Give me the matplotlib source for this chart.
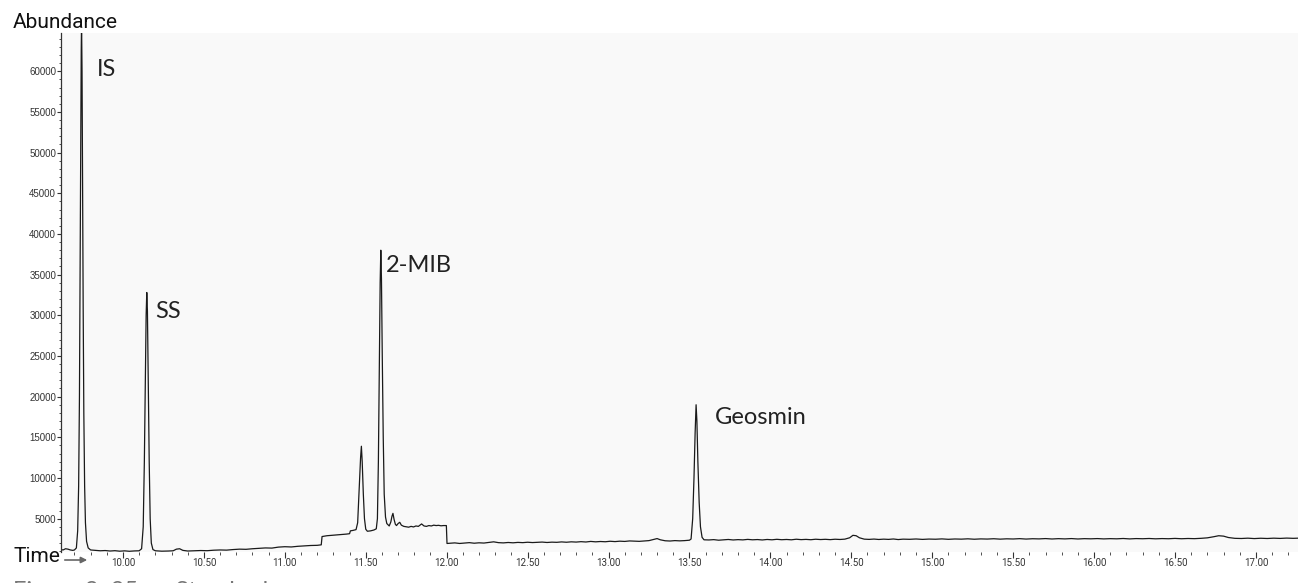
import matplotlib.pyplot as plt
from matplotlib.ticker import MultipleLocator, FormatStrFormatter

# chromatogram trace (time in min, abundance)
pre_is_t = [9.617, 9.63, 9.645, 9.66, 9.675, 9.69, 9.70]
pre_is_a = [1200, 1150, 1300, 1250, 1150, 1100, 1150]

is_t = [9.712, 9.720, 9.726, 9.731, 9.735, 9.739, 9.742, 9.744, 9.747, 9.750,
        9.754, 9.758, 9.763, 9.768, 9.775, 9.785]
is_a = [1400, 3500, 9000, 20000, 35000, 52000, 62500, 66000, 60000, 47000,
        31000, 18000, 9000, 4500, 2200, 1400]

base1_t = [9.80, 9.83, 9.86, 9.89, 9.92, 9.95, 9.98, 10.01, 10.04, 10.07, 10.10]
base1_a = [1150, 1100, 1050, 1080, 1020, 1060, 1000, 1040, 990, 1030, 1050]

ss_t = [10.115, 10.125, 10.132, 10.138, 10.143, 10.147, 10.151, 10.156, 10.162,
        10.168, 10.175, 10.185]
ss_a = [1300, 4000, 12000, 22000, 30000, 32800, 30500, 22000, 12000, 5000, 2000, 1200]

base2_t = [10.20, 10.24, 10.28, 10.31, 10.33, 10.35, 10.37, 10.40, 10.44, 10.48,
           10.52, 10.56, 10.60, 10.64, 10.68, 10.72, 10.76, 10.80, 10.84, 10.88,
           10.92, 10.96, 11.00, 11.04, 11.08, 11.12, 11.16, 11.20, 11.225]
base2_a = [1050, 1000, 1020, 1050, 1250, 1300, 1100, 1020, 1050, 1080,
           1060, 1120, 1150, 1130, 1200, 1250, 1230, 1300, 1350, 1400,
           1380, 1500, 1550, 1520, 1600, 1650, 1700, 1720, 1780]

mib_t = [11.23, 11.26, 11.29, 11.32, 11.35, 11.38, 11.40, 11.405, 11.42, 11.44,
         11.450, 11.460, 11.468, 11.473, 11.478, 11.485, 11.492, 11.50, 11.51,
         11.53, 11.55, 11.565,
         11.572, 11.578, 11.584, 11.589, 11.593, 11.597, 11.602, 11.608, 11.614,
         11.622, 11.63, 11.645, 11.655, 11.662, 11.668, 11.675, 11.683, 11.69,
         11.70, 11.71, 11.72, 11.735, 11.75, 11.765, 11.78, 11.795, 11.81, 11.825,
         11.845, 11.86, 11.875, 11.89, 11.905, 11.92, 11.935, 11.95, 11.965,
         11.98, 11.998]
mib_a = [2800, 2900, 2950, 3000, 3050, 3100, 3150, 3500, 3550, 3650,
         4500, 9000, 12500, 13900, 12000, 8000, 5000, 3700, 3450,
         3500, 3600, 3750,
         5000, 12000, 24000, 34000, 38000, 34500, 25000, 15000, 8000,
         5200, 4400, 4100, 4600, 5300, 5650, 4900, 4300, 4150,
         4400, 4550, 4200, 4050, 4000, 3950, 4050, 3980, 4100, 4050,
         4350, 4100, 4050, 4150, 4100, 4200, 4150, 4180, 4120,
         4150, 4150]

base3_t = [12.002, 12.02, 12.05, 12.08, 12.11, 12.14, 12.17, 12.20, 12.23, 12.26,
           12.29, 12.32, 12.35, 12.38, 12.41, 12.44, 12.47, 12.50, 12.53, 12.56,
           12.59, 12.62, 12.65, 12.68, 12.71, 12.74, 12.77, 12.80, 12.83, 12.86,
           12.89, 12.92, 12.95, 12.98, 13.01, 13.04, 13.07, 13.10, 13.13, 13.16,
           13.19, 13.22, 13.25, 13.28, 13.30, 13.32, 13.35, 13.38, 13.41, 13.44,
           13.47, 13.50]
base3_a = [1950, 1980, 2020, 1950, 2000, 2050, 1980, 2030, 2000, 2080,
           2150, 2050, 2020, 2070, 2030, 2080, 2050, 2100, 2060, 2090,
           2120, 2070, 2110, 2090, 2140, 2100, 2150, 2120, 2170, 2130,
           2200, 2150, 2190, 2160, 2220, 2180, 2230, 2200, 2260, 2240,
           2210, 2260, 2300, 2450, 2550, 2400, 2280, 2250, 2300, 2270,
           2300, 2350]

geo_t = [13.51, 13.52, 13.528, 13.535, 13.541, 13.546, 13.552, 13.56, 13.568,
         13.578, 13.59]
geo_a = [2500, 5000, 10000, 15500, 19000, 17000, 12000, 7000, 4000, 2700, 2400]

base4_t = [13.62, 13.65, 13.68, 13.71, 13.74, 13.77, 13.80, 13.83, 13.86, 13.89,
           13.92, 13.95, 13.98, 14.01, 14.04, 14.07, 14.10, 14.13, 14.16, 14.19,
           14.22, 14.25, 14.28, 14.31, 14.34, 14.37, 14.40, 14.43, 14.46, 14.49,
           14.51, 14.53, 14.55, 14.58, 14.61, 14.64, 14.67, 14.70, 14.73, 14.76,
           14.79, 14.82, 14.86, 14.90, 14.94, 14.98, 15.02, 15.06, 15.10, 15.14,
           15.18, 15.22, 15.26, 15.30, 15.34, 15.38, 15.42, 15.46, 15.50, 15.54,
           15.58, 15.62, 15.66, 15.70, 15.74, 15.78, 15.82, 15.86, 15.90, 15.94,
           15.98, 16.02, 16.06, 16.10, 16.14, 16.18, 16.22, 16.26, 16.30, 16.34,
           16.38, 16.42, 16.46, 16.50, 16.54, 16.58, 16.62, 16.66, 16.70, 16.74,
           16.77, 16.80, 16.83, 16.87, 16.91, 16.95, 16.99, 17.03, 17.07, 17.11,
           17.15, 17.19, 17.23, 17.26]
base4_a = [2380, 2420, 2350, 2400, 2440, 2380, 2420, 2390, 2450, 2400,
           2430, 2380, 2440, 2400, 2460, 2410, 2440, 2400, 2470, 2420,
           2450, 2410, 2470, 2430, 2460, 2420, 2470, 2440, 2480, 2650,
           2950, 2900, 2650, 2480, 2450, 2490, 2440, 2480, 2450, 2500,
           2430, 2480, 2460, 2500, 2450, 2490, 2470, 2510, 2460, 2500,
           2480, 2520, 2470, 2510, 2490, 2530, 2480, 2520, 2500, 2540,
           2490, 2530, 2510, 2550, 2500, 2540, 2510, 2550, 2500, 2540,
           2520, 2550, 2510, 2540, 2520, 2560, 2510, 2550, 2530, 2560,
           2520, 2550, 2530, 2570, 2530, 2560, 2540, 2580, 2640, 2780,
           2900, 2850, 2680, 2580, 2560, 2600, 2550, 2590, 2560, 2600,
           2570, 2610, 2580, 2600]

peak_names = ["IS", "SS", "2-MIB", "Geosmin"]
label_x = [9.839, 10.197, 11.623, 13.654]
label_y = [59400, 29650, 35300, 16630]

times = pre_is_t + is_t + base1_t + ss_t + base2_t + mib_t + base3_t + geo_t + base4_t
abund = pre_is_a + is_a + base1_a + ss_a + base2_a + mib_a + base3_a + geo_a + base4_a

narrow = ["Liberation Sans Narrow", "Roboto", "DejaVu Sans"]

fig = plt.figure(figsize=(12.99, 5.83), dpi=100)
ax = fig.add_axes([61 / 1299, 31 / 583, 1237 / 1299, 519 / 583])
ax.set_facecolor("#f9f9f9")

ax.plot(times, abund, color="#1a1a1a", linewidth=0.9)

ax.set_xlim(9.617, 17.26)
ax.set_ylim(900, 64700)

ax.xaxis.set_major_locator(MultipleLocator(0.5))
ax.xaxis.set_minor_locator(MultipleLocator(0.1))
ax.xaxis.set_major_formatter(FormatStrFormatter("%.2f"))
ax.yaxis.set_major_locator(MultipleLocator(5000))
ax.yaxis.set_minor_locator(MultipleLocator(1000))

for s in ["top", "right", "bottom"]:
    ax.spines[s].set_visible(False)
ax.spines["left"].set_color("#333333")
ax.spines["left"].set_linewidth(0.9)

ax.tick_params(axis="y", which="major", length=3, width=0.8, pad=0.5, colors="#333333",
               labelsize=7)
ax.tick_params(axis="y", which="minor", length=1.5, width=0.6, colors="#333333")
ax.tick_params(axis="x", which="major", length=4, width=0.8, pad=0.5, colors="#333333",
               labelsize=7)
ax.tick_params(axis="x", which="minor", length=2.5, width=0.6, colors="#333333")
for lab in ax.get_xticklabels():
    lab.set_family(narrow)
for lab in ax.get_yticklabels():
    lab.set_family(["Liberation Sans", "DejaVu Sans"])

for name, x, y in zip(peak_names, label_x, label_y):
    ax.text(x, y, name, fontsize=17, family=["Lato", "DejaVu Sans"], color="#222222",
            va="baseline", ha="left")

fig.text(13 / 1299, (583 - 28) / 583, "Abundance", fontsize=15, family=narrow,
         color="#111111", va="baseline", ha="left")
fig.text(14 / 1299, (583 - 562) / 583, "Time", fontsize=15, family=narrow,
         color="#111111", va="baseline", ha="left")
ax.annotate("", xy=(90, 23), xytext=(62, 23), xycoords="figure pixels",
            textcoords="figure pixels",
            arrowprops=dict(arrowstyle="-|>", color="#666666", lw=1.2,
                            mutation_scale=9))
fig.text(13 / 1299, (583 - 598) / 583, "Figure 3: 25 ng Standard", fontsize=17,
         family=["Lato", "DejaVu Sans"], color="#777777", va="baseline", ha="left")

fig.savefig("out.png", dpi=100)
